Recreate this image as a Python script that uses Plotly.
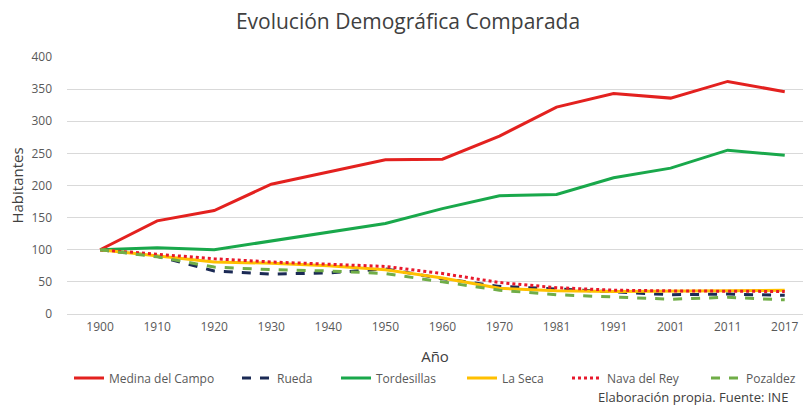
import plotly.graph_objects as go

years = ["1900", "1910", "1920", "1930", "1940", "1950", "1960", "1970", "1981", "1991", "2001", "2011", "2017"]

medina = [100, 145, 161, 202, 221, 240, 241, 277, 322, 343, 336, 362, 346]
rueda = [100, 90, 67, 62, 64, 70, 55, 43, 39, 35, 30, 31, 29]
tordesillas = [100, 103, 100, 114, 127, 141, 164, 184, 186, 212, 227, 255, 247]
la_seca = [100, 90, 81, 79, 75, 69, 56, 40, 36, 35, 35, 36, 37]
nava = [100, 93, 86, 81, 78, 74, 63, 49, 41, 37, 36, 36, 35]
pozaldez = [100, 89, 73, 69, 67, 63, 50, 37, 30, 27, 23, 26, 22]

names = ["Medina del Campo", "Rueda", "Tordesillas", "La Seca", "Nava del Rey", "Pozaldez"]
values = [medina, rueda, tordesillas, la_seca, nava, pozaldez]
colors = ["#E3211F", "#1B2A55", "#19A84B", "#FFC000", "#E8192C", "#70AD47"]
dashes = ["solid", "dash", "solid", "solid", "dot", "dash"]
# page x where each legend entry's text starts
legend_text_px = [110, 278, 377, 503, 608, 747]

W, H = 803, 405
L, T = 67, 57
PW, PH = W - L, 257
B = H - T - PH

def px_x(px):
    return (px - L) / PW

def px_y(py):
    return (T + PH - py) / PH

fig = go.Figure()
layout_legends = {}
font_family = "Open Sans, Lato, sans-serif"
for i, (name, vals, color, dash) in enumerate(zip(names, values, colors, dashes)):
    key = "legend" if i == 0 else f"legend{i+1}"
    fig.add_trace(go.Scatter(
        x=years, y=vals, name=name, mode="lines",
        line=dict(color=color, width=3, dash=dash),
        legend=key,
    ))
    layout_legends[key] = dict(
        orientation="h", x=px_x(legend_text_px[i] - 41), xanchor="left",
        y=px_y(378), yanchor="middle",
        font=dict(size=12, color="#595959", family=font_family),
        bgcolor="rgba(0,0,0,0)", borderwidth=0,
    )

fig.update_layout(
    width=W, height=H,
    paper_bgcolor="white", plot_bgcolor="white",
    margin=dict(l=L, r=0, t=T, b=B, autoexpand=False),
    font=dict(family=font_family, color="#595959", size=12),
    title=dict(text="Evolución Demográfica Comparada", xref="paper", x=px_x(408), xanchor="center",
               yref="container", y=1 - 22 / H, yanchor="middle",
               font=dict(size=21, color="#404040", family=font_family)),
    showlegend=True,
    annotations=[dict(text="Elaboración propia. Fuente: INE", xref="paper", yref="paper",
                      x=px_x(790), y=px_y(397), xanchor="right", yanchor="middle", showarrow=False,
                      font=dict(size=13, color="#404040"))],
    **layout_legends,
)
fig.update_xaxes(
    type="category", range=[-0.58, 12.32],
    showgrid=False, showline=False, ticks="", ticklabelstandoff=4,
    tickfont=dict(size=12, color="#595959"),
    title=dict(text="Año", font=dict(size=15, color="#404040"), standoff=17),
)
fig.update_yaxes(
    range=[0, 400], dtick=50, showgrid=True, gridcolor="#D9D9D9", gridwidth=1,
    zeroline=True, zerolinecolor="#D9D9D9", zerolinewidth=1,
    showline=False, ticks="", ticklabelstandoff=14,
    tickfont=dict(size=12, color="#595959"),
    title=dict(text="Habitantes", font=dict(size=15, color="#404040"), standoff=4),
)

fig.write_html(
    "out.html",
    config={"displayModeBar": False},
    post_script="document.body.style.margin='0';document.body.style.overflow='hidden';",
)
